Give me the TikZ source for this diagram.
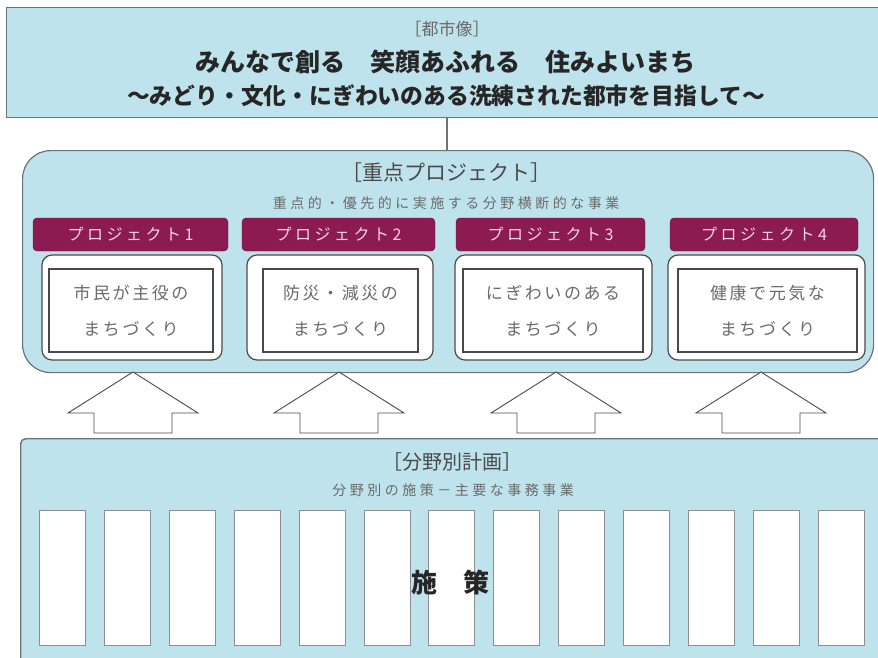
\documentclass[tikz,border=0pt]{standalone}
\usepackage{fontspec}
\newfontfamily\jp{Noto Sans CJK JP}
\definecolor{lb}{HTML}{BFE3EC}
\definecolor{mar}{HTML}{8C1B52}
\definecolor{bd}{HTML}{6F7275}
\definecolor{gt}{HTML}{4A4A4A}
\definecolor{lt}{HTML}{6A6A6A}
\definecolor{pk}{HTML}{F3D6E4}
\begin{document}
\begin{tikzpicture}[x=1pt,y=-1pt,
  lbox/.style={draw=bd, fill=lb, line width=1.4pt, inner sep=0pt},
  hdr/.style={fill=mar, draw=mar!70!black, rounded corners=4pt, minimum height=33pt, inner sep=0pt,
    text=pk, font=\jp\fontsize{16}{16}\selectfont\addfontfeature{LetterSpace=22}},
  obox/.style={draw=gt, fill=white, line width=1.2pt, rounded corners=10pt, minimum height=105pt, inner sep=0pt},
  ibox/.style={draw=gt, fill=white, line width=1.8pt, minimum height=83pt, inner sep=0pt},
  ptext/.style={text=lt, align=center, font=\jp\fontsize{17}{36}\selectfont\addfontfeature{LetterSpace=15}},
  upar/.style={draw=gt, fill=white, line width=0.9pt, line join=miter},
  col/.style={draw=bd!80, fill=white, line width=0.9pt, minimum width=46pt, minimum height=135pt, inner sep=0pt, anchor=north west},
  conn/.style={draw=bd, line width=2pt}]
\useasboundingbox (0,0) rectangle (878,657);
\clip (0,0) rectangle (878,657);
\fill[white] (0,0) rectangle (878,657);

% top box
\node[lbox, anchor=north west, minimum width=880pt, minimum height=110pt] (toshi) at (6,7) {};
\node[text=lt, font=\jp\fontsize{17}{17}\selectfont] (toshiT) at (447,29) {［都市像］};
\node[text=black!85, font=\jp\bfseries\fontsize{25}{25}\selectfont] (slogan1) at (445,62) {みんなで創る　笑顔あふれる　住みよいまち};
\node[text=black!85, font=\jp\bfseries\fontsize{22.8}{23}\selectfont] (slogan2) at (446,96) {～みどり・文化・にぎわいのある洗練された都市を目指して～};

% middle box
\node[lbox, line width=1.2pt, rounded corners=28pt, anchor=north west, minimum width=851pt, minimum height=222pt] (juten) at (22,150) {};
\draw[conn] (toshi.south) -- (toshi.south |- juten.north);
\node[text=gt, font=\jp\fontsize{21}{21}\selectfont] (jutenT) at (446,173) {［重点プロジェクト］};
\node[text=lt, font=\jp\fontsize{14}{14}\selectfont\addfontfeature{LetterSpace=25}] (jutenS) at (446,203) {重点的・優先的に実施する分野横断的な事業};

% project headers
\node[hdr, minimum width=195pt] (h1) at (130.5,234.5) {プロジェクト1};
\node[hdr, minimum width=193pt] (h2) at (338.5,234.5) {プロジェクト2};
\node[hdr, minimum width=189pt] (h3) at (550.5,234.5) {プロジェクト3};
\node[hdr, minimum width=188pt] (h4) at (764,234.5) {プロジェクト4};

% project boxes
\node[obox, minimum width=180pt] (o1) at (132,307.5) {};
\node[obox, minimum width=186pt] (o2) at (340,307.5) {};
\node[obox, minimum width=197pt] (o3) at (553.5,307.5) {};
\node[obox, minimum width=197pt] (o4) at (766.5,307.5) {};
\node[ibox, minimum width=164pt] (i1) at (131,310.5) {};
\node[ibox, minimum width=155pt] (i2) at (340.5,310.5) {};
\node[ibox, minimum width=180pt] (i3) at (553,310.5) {};
\node[ibox, minimum width=179pt] (i4) at (767.5,310.5) {};
\node[ptext] (t1) at (i1) {市民が主役の\\まちづくり};
\node[ptext] (t2) at (i2) {防災・減災の\\まちづくり};
\node[ptext] (t3) at (i3) {にぎわいのある\\まちづくり};
\node[ptext] (t4) at (i4) {健康で元気な\\まちづくり};

% bottom box
\node[lbox, rounded corners=5pt, anchor=north west, minimum width=880pt, minimum height=240pt] (bunya) at (20,438) {};

% up arrows
\foreach \c in {133,339,556,761} {
  \draw[upar] (\c,372) -- (\c+65,413) -- (\c+39,413) -- (\c+39,433) -- (\c-39,433) -- (\c-39,413) -- (\c-65,413) -- cycle;
}

\node[text=gt, font=\jp\fontsize{20}{20}\selectfont] (bunyaT) at (452,462) {［分野別計画］};
\node[text=lt, font=\jp\fontsize{14}{14}\selectfont\addfontfeature{LetterSpace=25}] (bunyaS) at (453,490) {分野別の施策－主要な事務事業};

\foreach \i in {0,...,12} {
  \node[col] (col\i) at (39+64.9*\i,510) {};
}
\node[text=black!85, font=\jp\bfseries\fontsize{26}{26}\selectfont] (shisaku) at (450,583) {施　策};
\end{tikzpicture}
\end{document}
